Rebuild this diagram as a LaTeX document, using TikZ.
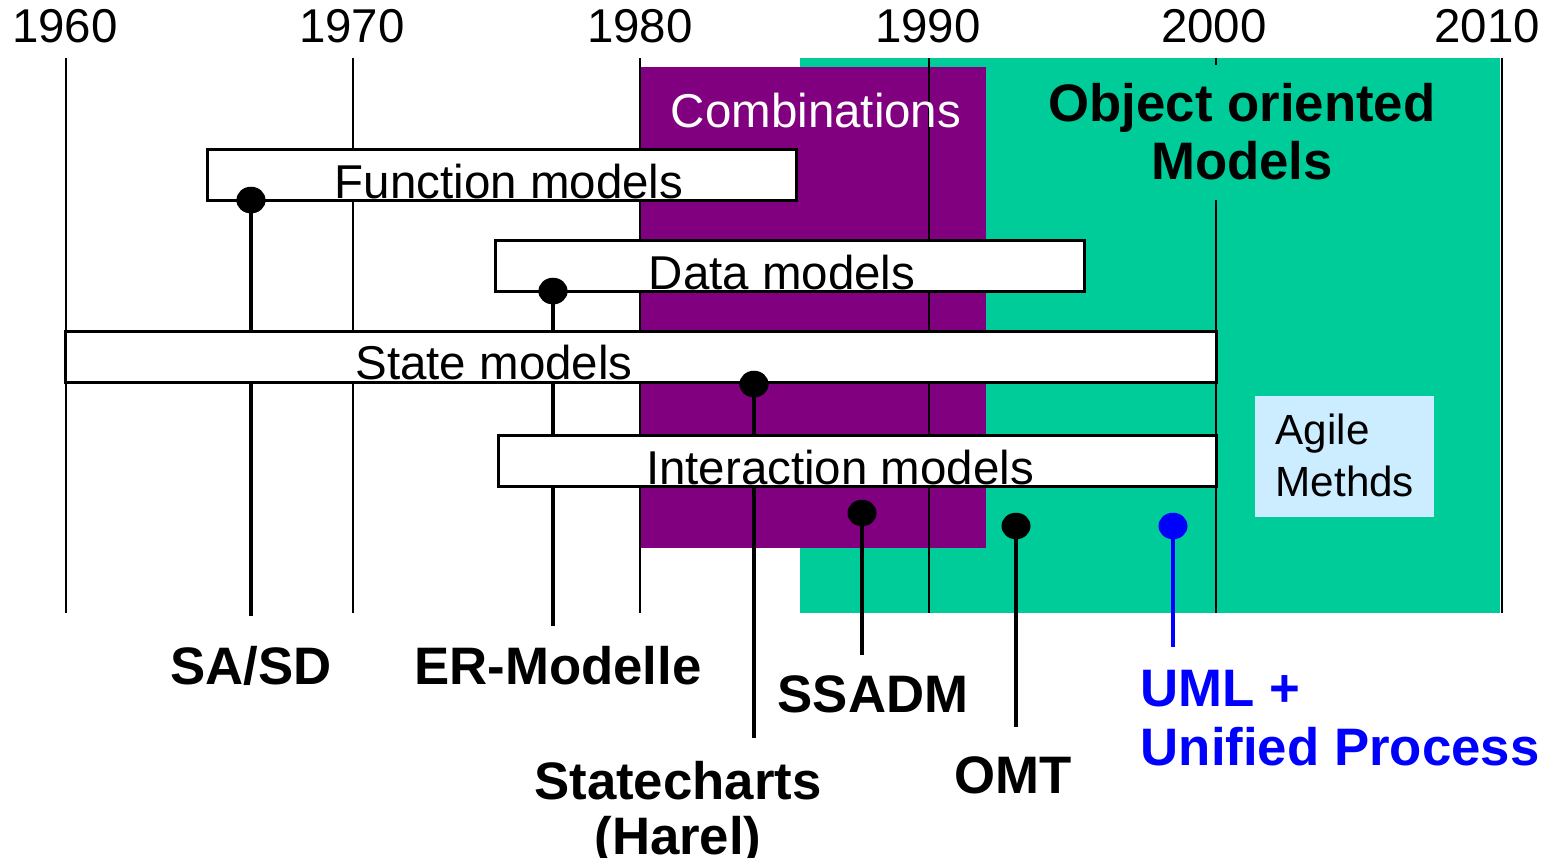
\documentclass[tikz,border=0pt]{standalone}
\usepackage{fontspec}
\setmainfont{Liberation Sans}
\usetikzlibrary{shapes.geometric}
\definecolor{oogreen}{RGB}{0,204,153}
\definecolor{combipurple}{RGB}{128,0,128}
\definecolor{agileblue}{RGB}{204,236,255}
\definecolor{umlblue}{RGB}{0,0,255}
\begin{document}
\begin{tikzpicture}[x=0.01cm,y=-0.01cm,
  yearlabel/.style={font=\fontsize{13.5}{16}\selectfont, anchor=base, inner sep=0pt},
  yearline/.style={line width=0.7pt},
  modelbox/.style={draw, fill=white, line width=0.85pt, rectangle, inner sep=0pt, outer sep=0pt, minimum height=0.5cm},
  boxtext/.style={font=\fontsize{13.5}{16}\selectfont, anchor=base, inner sep=0pt},
  method/.style={font=\fontsize{15}{16.5}\selectfont\bfseries, anchor=base, inner sep=0pt, align=center},
  pindot/.style={ellipse, fill=black, minimum width=0.29cm, minimum height=0.265cm, inner sep=0pt},
  stem/.style={line width=1.3pt}]

\useasboundingbox (0,0) rectangle (1554,858);

% era backgrounds
\fill[oogreen] (800,58) rectangle (1500,613);
\fill[combipurple] (640,67) rectangle (986,548);

% decade grid with year labels
\foreach \yr/\xx/\lx in {1960/66/65,1970/353/352,1980/640/640,1990/929/928,2000/1216/1214,2010/1502/1487}{
  \node[yearlabel] (lab\yr) at (\lx,43) {\yr};
  \coordinate (top\yr) at (\xx,58);
  \coordinate (bot\yr) at (\xx,613);
  \draw[yearline] (top\yr) -- (bot\yr);
}

% era titles (multi-line nodes are placed by the baseline of their last line)
\node[font=\fontsize{15}{16.5}\selectfont\bfseries, align=center, anchor=base,
      fill=oogreen, inner xsep=6pt, inner ysep=0.19cm] (oo) at (1242,180) {Object oriented\\Models};
\node[boxtext, text=white] (combi) at (816,128) {Combinations};

% method pins
\node[pindot] (dSA) at (251,200) {};
\node[pindot] (dER) at (553,291) {};
\node[pindot] (dSC) at (754,384) {};
\node[pindot] (dSS) at (862,513) {};
\node[pindot] (dOMT) at (1016,526) {};
\node[pindot, fill=umlblue] (dUML) at (1173,526) {};

\coordinate (eSA) at (251,616);
\coordinate (eER) at (553,626);
\coordinate (eSC) at (754,738);
\coordinate (eSS) at (862,655);
\coordinate (eOMT) at (1016,727);
\coordinate (eUML) at (1173,647);

\draw[stem] (dSA.center) -- (eSA);
\draw[stem] (dER.center) -- (eER);
\draw[stem] (dSC.center) -- (eSC);
\draw[stem] (dSS.center) -- (eSS);
\draw[stem] (dOMT.center) -- (eOMT);
\draw[stem, umlblue] (dUML.center) -- (eUML);

% model families
\node[modelbox, minimum width=5.88cm] (fbox) at (502,175) {};
\node[modelbox, minimum width=5.88cm] (dbox) at (790,266) {};
\node[modelbox, minimum width=11.5cm] (sbox) at (641,357) {};
\node[modelbox, minimum width=7.17cm] (ibox) at (857.5,461) {};

\node[boxtext] (ftext) at (509,199) {Function models};
\node[boxtext] (dtext) at (782,290) {Data models};
\node[boxtext] (stext) at (494,380) {State models};
\node[boxtext] (itext) at (840,485) {Interaction models};

% dots above the box edges
\node[pindot] at (dSA) {};
\node[pindot] at (dER) {};
\node[pindot] at (dSC) {};

% agile methods
\node[fill=agileblue, rectangle, minimum width=1.79cm, minimum height=1.21cm, inner sep=0pt] (agile) at (1344.5,456.5) {};
\node[font=\fontsize{12}{14.8}\selectfont, align=left, anchor=base west, inner sep=0pt] (agiletext) at (1275,497) {Agile\\Methds};

% method names
\node[method] (lSA) at (251,685) {SA/SD};
\node[method] (lER) at (558,685) {ER-Modelle};
\node[method, font=\fontsize{15}{15.6}\selectfont\bfseries] (lSC) at (678,854) {Statecharts\\(Harel)};
\node[method] (lSS) at (873,712) {SSADM};
\node[method] (lOMT) at (1013,793) {OMT};
\node[method, align=left, anchor=base west, text=umlblue] (lUML) at (1140,765) {UML +\\Unified Process};

\end{tikzpicture}
\end{document}
